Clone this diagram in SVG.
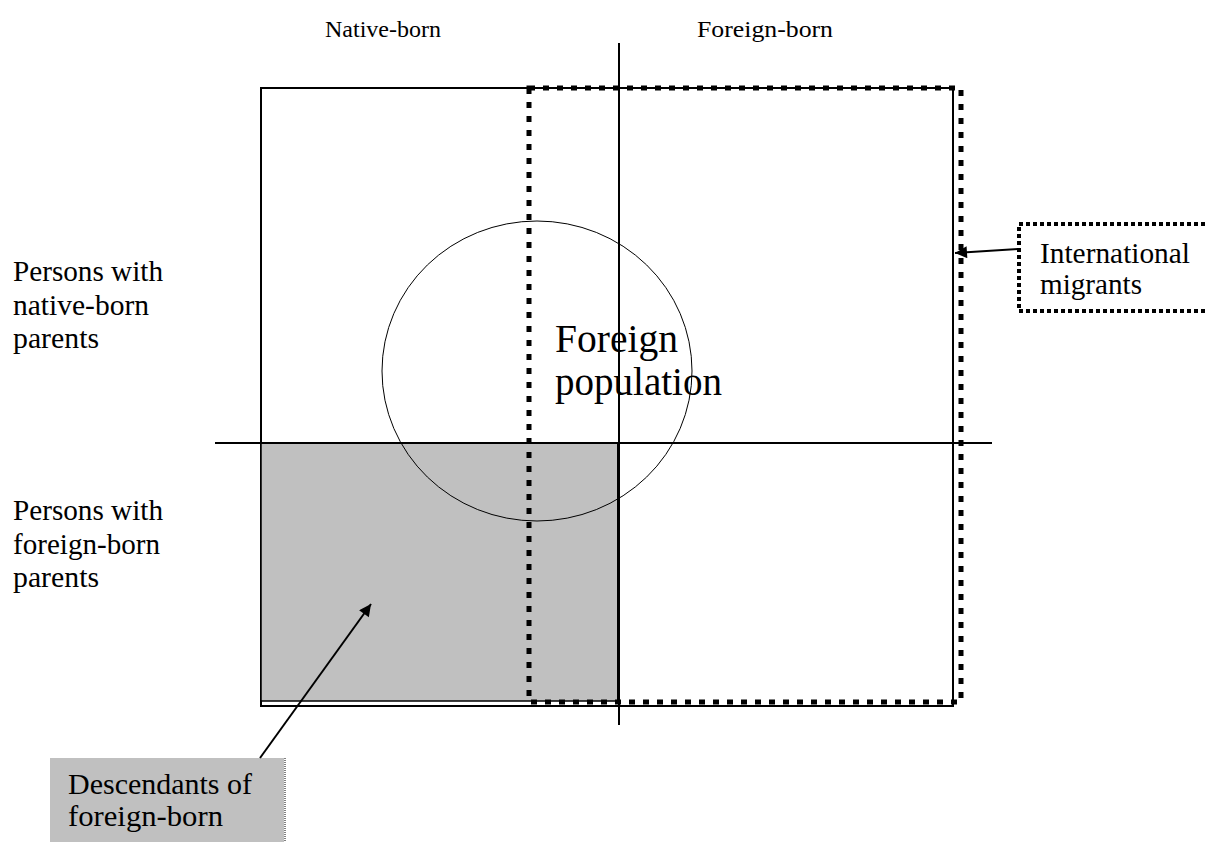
<svg xmlns="http://www.w3.org/2000/svg" width="1208" height="842" viewBox="0 0 1208 842">
<style>
text{font-family:"Liberation Serif","Times New Roman",serif;fill:#000}
.t24{font-size:24px}
.t29{font-size:29px}
.t39{font-size:39px}
.line{stroke:#000;fill:none}
.dots{stroke:#000;fill:none;stroke-width:5;stroke-dasharray:6 8}
.dots2{stroke:#000;fill:none;stroke-width:4;stroke-dasharray:4 3}
</style>
<defs>
<marker id="arr" viewBox="0 0 10 10" refX="10" refY="5" markerWidth="18" markerHeight="12" markerUnits="userSpaceOnUse" orient="auto">
<path d="M0,0 L10,5 L0,10 z" fill="#000"/>
</marker>
</defs>
<rect width="1208" height="842" fill="#fff"/>
<g id="outer-box">
<rect x="261" y="88" width="692" height="618" class="line" stroke-width="2"/>
</g>
<g id="descendants-area">
<rect x="261" y="443" width="358" height="258" fill="#c0c0c0" stroke="#000" stroke-width="1.5"/>
<line x1="618.5" y1="443" x2="618.5" y2="703" stroke="#000" stroke-width="3"/>
</g>
<g id="axes">
<line x1="215" y1="443" x2="992" y2="443" class="line" stroke-width="2"/>
<line x1="619" y1="43" x2="619" y2="725" class="line" stroke-width="2"/>
</g>
<g id="foreign-population">
<ellipse cx="537" cy="371" rx="155" ry="150" class="line" stroke-width="1"/>
<text class="t39" x="555" y="352" textLength="123" lengthAdjust="spacingAndGlyphs">Foreign</text>
<text class="t39" x="555" y="395" textLength="167" lengthAdjust="spacingAndGlyphs">population</text>
</g>
<g id="international-migrants-area">
<rect x="529" y="88" width="432" height="614" class="dots"/>
</g>
<g id="headers">
<text class="t24" x="325" y="37" textLength="116" lengthAdjust="spacingAndGlyphs">Native-born</text>
<text class="t24" x="697" y="37" textLength="136" lengthAdjust="spacingAndGlyphs">Foreign-born</text>
</g>
<g id="row-native">
<text class="t29" x="13" y="281" textLength="150" lengthAdjust="spacingAndGlyphs">Persons with</text>
<text class="t29" x="13" y="315" textLength="136" lengthAdjust="spacingAndGlyphs">native-born</text>
<text class="t29" x="13" y="348" textLength="86" lengthAdjust="spacingAndGlyphs">parents</text>
</g>
<g id="row-foreign">
<text class="t29" x="13" y="520" textLength="150" lengthAdjust="spacingAndGlyphs">Persons with</text>
<text class="t29" x="13" y="554" textLength="147" lengthAdjust="spacingAndGlyphs">foreign-born</text>
<text class="t29" x="13" y="587" textLength="86" lengthAdjust="spacingAndGlyphs">parents</text>
</g>
<g id="international-migrants">
<rect x="1019" y="224" width="200" height="87" class="dots2" fill="#fff"/>
<text class="t29" x="1040" y="263" textLength="150" lengthAdjust="spacingAndGlyphs">International</text>
<text class="t29" x="1040" y="294" textLength="102" lengthAdjust="spacingAndGlyphs">migrants</text>
</g>
<g id="descendants">
<rect x="50" y="758" width="234" height="90" fill="#c0c0c0"/>
<line x1="285" y1="758" x2="285" y2="842" stroke="#808080" stroke-width="2" stroke-dasharray="1 1"/>
<text class="t29" x="68" y="794" textLength="184" lengthAdjust="spacingAndGlyphs">Descendants of</text>
<text class="t29" x="68" y="826" textLength="155" lengthAdjust="spacingAndGlyphs">foreign-born</text>
</g>
<g id="connectors">
<line x1="1019" y1="249" x2="955" y2="253" class="line" stroke-width="2" marker-end="url(#arr)"/>
<line x1="260" y1="758" x2="371" y2="604" class="line" stroke-width="2" marker-end="url(#arr)"/>
</g>
</svg>
